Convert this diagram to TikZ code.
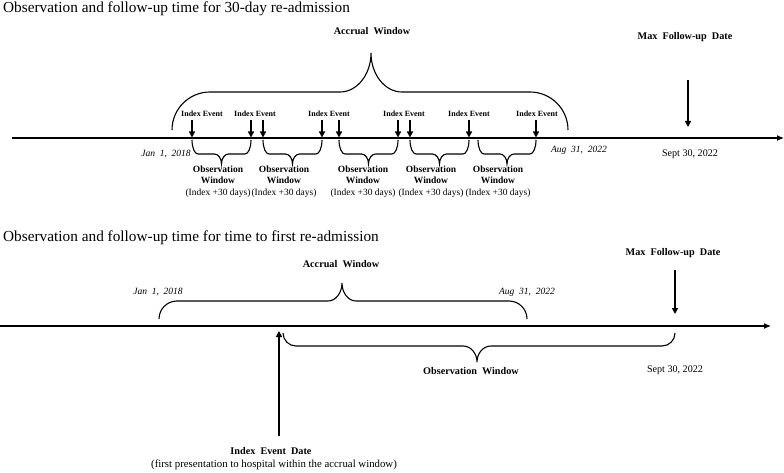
\documentclass[tikz,border=0pt]{standalone}
\usepackage{fontspec}
\setmainfont{Liberation Serif}
\usetikzlibrary{arrows.meta}
\newcommand{\hbr}[8]{% x1 x2 yend yflat xtip ytip r rtip
  \draw[bracestyle] (#1,#3)
    .. controls (#1,{#3-0.552*(#3-#4)}) and ({#1+0.448*#7},#4) .. ({#1+#7},#4)
    -- ({#5-#8},#4)
    .. controls ({#5-0.448*#8},#4) and (#5,{#6+0.552*(#4-#6)}) .. (#5,#6)
    .. controls (#5,{#6+0.552*(#4-#6)}) and ({#5+0.448*#8},#4) .. ({#5+#8},#4)
    -- ({#2-#7},#4)
    .. controls ({#2-0.448*#7},#4) and (#2,{#3-0.552*(#3-#4)}) .. (#2,#3);}
\begin{document}
\begin{tikzpicture}[x=1pt,y=-1pt,
  bracestyle/.style={line width=1.1pt},
  axis/.style={line width=1.1pt,-{Latex[length=7pt,width=6pt]}},
  evarrow/.style={line width=1.6pt,-{Triangle[length=6pt,width=6pt]}},
  title/.style={font=\fontsize{15.3}{17}\selectfont,anchor=west,inner sep=0pt},
  blab/.style={font=\bfseries\fontsize{10.2}{12}\selectfont,inner sep=0pt},
  evlab/.style={font=\bfseries\fontsize{8}{9}\selectfont,inner sep=0pt},
  owlab/.style={font=\fontsize{9.5}{11.5}\selectfont,align=center,inner sep=0pt},
  datelab/.style={font=\itshape\fontsize{9.5}{11}\selectfont,inner sep=0pt},
  plainlab/.style={font=\fontsize{10.1}{11}\selectfont,inner sep=0pt}]
\useasboundingbox (0,0) rectangle (784,473);

% ---------- Part 1 ----------
\node[title] (t1) at (3,9) {Observation and follow-up time for 30-day re-admission};
\coordinate (a1s) at (12,138);
\coordinate (a1e) at (784,138);
\draw[axis] (a1s) -- (a1e);

\node[blab] (acc1) at (372,31) {Accrual\ \ Window};
\hbr{172}{568}{130}{92}{371}{53}{38}{31}

\node[blab] (max1) at (685,37) {Max\ \ Follow-up\ \ Date};
\coordinate (m1a) at (688,80);
\coordinate (m1b) at (688,127);
\draw[evarrow] (m1a) -- (m1b);

\node[datelab] (jan1) at (166,154) {Jan\ \ 1,\ \ 2018};
\node[datelab] (aug1) at (579,150) {Aug\ \ 31,\ \ 2022};
\node[plainlab] (sep1) at (690,154) {Sept 30, 2022};

\foreach \n/\x in {e1/202,e2/255,e3/329,e4/404,e5/469,e6/537}{
  \node[evlab] (\n) at (\x,114) {Index Event};
}
\foreach \n/\x in {1/192,2/251,3/263,4/322,5/339,6/398,7/410,8/469,9/536}{
  \coordinate (p\n a) at (\x,120);
  \coordinate (p\n b) at (\x,137.5);
  \draw[evarrow] (p\n a) -- (p\n b);
}
\hbr{192}{251}{140}{154}{221.5}{164}{6}{7}
\hbr{263}{322}{140}{154}{292.5}{164}{6}{7}
\hbr{339}{398}{140}{154}{368.5}{164}{6}{7}
\hbr{410}{469}{140}{154}{439.5}{164}{6}{7}
\hbr{478}{536}{140}{154}{507}{164}{6}{7}

\foreach \n/\x in {o1/218,o2/284,o3/363,o4/431,o5/498}{
  \node[owlab] (\n) at (\x,181.5) {\textbf{Observation}\\\textbf{Window}\\(Index +30 days)};
}

% ---------- Part 2 ----------
\node[title] (t2) at (3,238) {Observation and follow-up time for time to first re-admission};
\coordinate (a2s) at (0,326);
\coordinate (a2e) at (771,326);
\draw[axis] (a2s) -- (a2e);

\node[blab] (acc2) at (341,264) {Accrual\ \ Window};
\hbr{159}{527}{319}{301}{342}{283}{18}{14}
\node[datelab] (jan2) at (158,292) {Jan\ \ 1,\ \ 2018};
\node[datelab] (aug2) at (527,292) {Aug\ \ 31,\ \ 2022};

\node[blab] (max2) at (673,253) {Max\ \ Follow-up\ \ Date};
\coordinate (m2a) at (675,270);
\coordinate (m2b) at (675,314);
\draw[evarrow] (m2a) -- (m2b);

\hbr{283}{675}{333}{346}{477}{362}{13}{14}
\node[blab] (ow2) at (471,371) {Observation\ \ Window};
\node[plainlab] (sep2) at (675,370) {Sept 30, 2022};

\coordinate (i2a) at (279,436);
\coordinate (i2b) at (279,331);
\draw[evarrow] (i2a) -- (i2b);
\node[blab] (ied) at (271,451) {Index\ \ Event\ \ Date};
\node[plainlab,font=\fontsize{10.8}{12}\selectfont] (iedsub) at (274,465) {(first presentation to hospital within the accrual window)};
\end{tikzpicture}
\end{document}
